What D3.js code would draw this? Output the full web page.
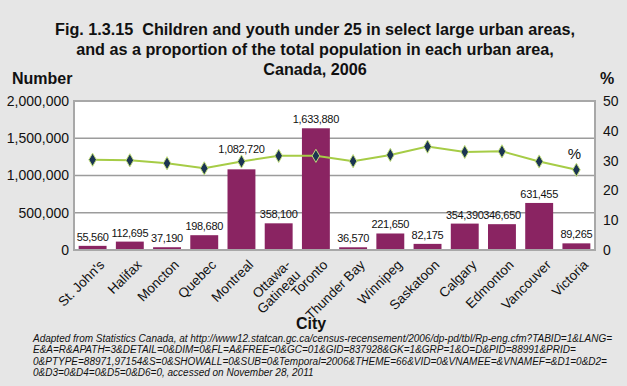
<!DOCTYPE html>
<html><head><meta charset="utf-8">
<script src="https://cdn.jsdelivr.net/npm/d3@7"></script>
<style>body{margin:0;background:#e6e6e6} svg{display:block}</style>
</head><body>
<script>
const cities = ["St. John's","Halifax","Moncton","Quebec","Montreal","Ottawa-\nGatineau","Toronto","Thunder Bay","Winnipeg","Saskatoon","Calgary","Edmonton","Vancouver","Victoria"];
const counts = [55560,112695,37190,198680,1082720,358100,1633880,36570,221650,82175,354390,346650,631455,89265];
const percents = [30.3,30.1,29.1,27.4,29.7,31.6,31.6,29.8,31.9,34.7,32.9,33.1,29.7,26.9];
const leftTicks = [0,500000,1000000,1500000,2000000];
const rightTicks = [0,10,20,30,40,50];
const titleLines = ["Fig. 1.3.15\u00a0 Children and youth under 25 in select large urban areas,","and as a proportion of the total population in each urban area,","Canada, 2006"];
const footLines = [
"Adapted from Statistics Canada, at http://www12.statcan.gc.ca/census-recensement/2006/dp-pd/tbl/Rp-eng.cfm?TABID=1&LANG=",
"E&A=R&APATH=3&DETAIL=0&DIM=0&FL=A&FREE=0&GC=01&GID=837928&GK=1&GRP=1&O=D&PID=88991&PRID=",
"0&PTYPE=88971,97154&S=0&SHOWALL=0&SUB=0&Temporal=2006&THEME=66&VID=0&VNAMEE=&VNAMEF=&D1=0&D2=",
"0&D3=0&D4=0&D5=0&D6=0, accessed on November 28, 2011"];

const W=627,H=386, L=74,R=595,T=101,B=250;
const font="'Liberation Sans', Arial, Helvetica, sans-serif";
const svg=d3.select("body").append("svg").attr("width",W).attr("height",H).style("font-family",font);
svg.append("rect").attr("width",W).attr("height",H).attr("fill","#e6e6e6");

const x=d3.scaleBand().domain(cities).range([L,R]).paddingInner(0.25).paddingOuter(0.125);
const y=d3.scaleLinear().domain([0,2000000]).range([B,T]);
const y2=d3.scaleLinear().domain([0,50]).range([B,T]);

// title
svg.append("g").selectAll("text").data(titleLines).join("text")
  .attr("x",315).attr("y",(d,i)=>35+i*20).attr("text-anchor","middle")
  .attr("font-weight","bold").attr("font-size",16.2).attr("fill","#111").text(d=>d);
svg.append("text").attr("x",12).attr("y",84).attr("font-weight","bold").attr("font-size",16).attr("fill","#111").text("Number");
svg.append("text").attr("x",607).attr("y",84).attr("text-anchor","middle").attr("font-weight","bold").attr("font-size",16).attr("fill","#111").text("%");

// plot bg
svg.append("rect").attr("x",L).attr("y",T).attr("width",R-L).attr("height",B-T).attr("fill","#fff");
// gridlines
svg.append("g").selectAll("line").data(leftTicks.slice(1,-1)).join("line")
  .attr("x1",L).attr("x2",R).attr("y1",d=>y(d)).attr("y2",d=>y(d))
  .attr("stroke","#9c9c9c").attr("stroke-width",1.5);

// axes
const ax=svg.append("g").attr("transform",`translate(${L},0)`)
  .call(d3.axisLeft(y).tickValues(leftTicks).tickSize(0).tickPadding(5).tickFormat(d3.format(",")));
ax.select(".domain").remove();
ax.selectAll("text").attr("font-size",14).attr("font-family",font).attr("fill","#111");
const ax2=svg.append("g").attr("transform",`translate(${R},0)`)
  .call(d3.axisRight(y2).tickValues(rightTicks).tickSize(0).tickPadding(8));
ax2.select(".domain").remove();
ax2.selectAll("text").attr("font-size",14).attr("font-family",font).attr("fill","#111");

// bars
svg.append("g").selectAll("rect").data(cities).join("rect")
  .attr("x",d=>x(d)).attr("width",x.bandwidth())
  .attr("y",(d,i)=>y(counts[i])).attr("height",(d,i)=>B-y(counts[i]))
  .attr("fill","#8a2462");

// plot border
svg.append("rect").attr("x",L).attr("y",T).attr("width",R-L).attr("height",B-T)
  .attr("fill","none").attr("stroke","#a8a8a8").attr("stroke-width",2);

// line
const line=d3.line().x((d,i)=>x(cities[i])+x.bandwidth()/2).y(d=>y2(d));
svg.append("path").datum(percents).attr("d",line).attr("fill","none").attr("stroke","#a6cc46").attr("stroke-width",2);
svg.append("g").selectAll("path").data(percents).join("path")
  .attr("transform",(d,i)=>`translate(${x(cities[i])+x.bandwidth()/2},${y2(d)})`)
  .attr("d",d3.symbol().type(d3.symbolDiamond).size(50))
  .attr("fill","#1b3452").attr("stroke","#c2df7c").attr("stroke-width",1);

// value labels
svg.append("g").selectAll("text").data(counts).join("text")
  .attr("x",(d,i)=>x(cities[i])+x.bandwidth()/2)
  .attr("y",(d,i)=>{let yy=y(d)-5; const py=y2(percents[i]); if(yy>py-8 && yy<py+14) yy=py-8; return yy;})
  .attr("text-anchor","middle").attr("font-size",11).attr("letter-spacing",-0.3).attr("fill","#111").text(d=>d3.format(",")(d));

svg.append("text").attr("x",x(cities[13])+x.bandwidth()/2-2).attr("y",159).attr("text-anchor","middle")
  .attr("font-size",15).attr("fill","#111").text("%");

// x labels
const xl=svg.append("g").selectAll("text").data(cities).join("text")
  .attr("transform",d=>`translate(${x(d)+x.bandwidth()/2+6},${259}) rotate(-45)`)
  .attr("text-anchor","end").attr("font-size",13.5).attr("fill","#111");
xl.each(function(d){
  const parts=d.split("\n"); const t=d3.select(this);
  parts.forEach((p,k)=>t.append("tspan").attr("x",0).attr("dy",k===0?"0.7em":"1.05em").text(p));
});

svg.append("text").attr("x",311).attr("y",329).attr("text-anchor","middle").attr("font-weight","bold").attr("font-size",16).attr("fill","#111").text("City");

svg.append("g").selectAll("text").data(footLines).join("text")
  .attr("x",33).attr("y",(d,i)=>342+i*11.3).attr("font-style","italic").attr("font-size",10).attr("fill","#111").text(d=>d);
</script>
</body></html>
